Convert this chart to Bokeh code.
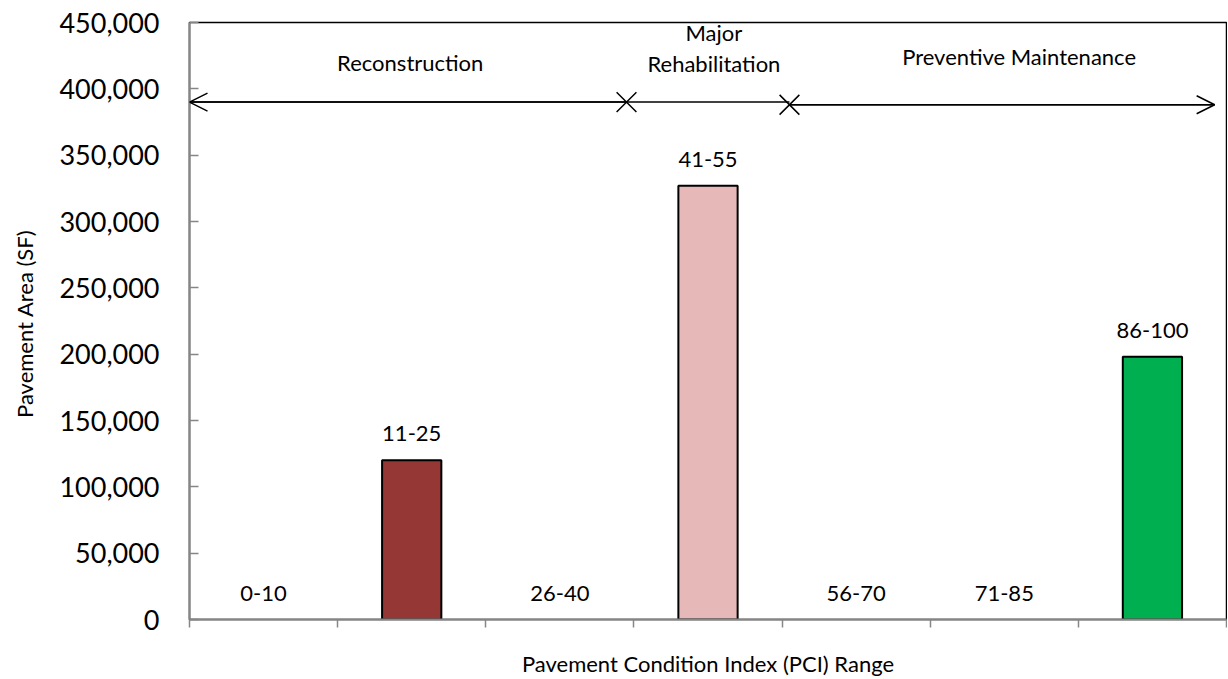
from bokeh.plotting import figure
from bokeh.models import (Range1d, FixedTicker, NumeralTickFormatter, Arrow, OpenHead,
                          ColumnDataSource)
from bokeh.core.properties import value
from bokeh.embed import file_html
from bokeh.resources import INLINE

# ---- data ----
categories = ["0-10", "11-25", "26-40", "41-55", "56-70", "71-85", "86-100"]
area_sf = [0, 120000, 0, 327000, 0, 0, 198000]
bar_colors = ["#7F7F7F", "#953735", "#FF0000", "#E6B9B8", "#92D050", "#00B0F0", "#00B050"]

bracket_names = ["Reconstruction", "Major\nRehabilitation", "Preventive Maintenance"]
bracket_bounds = [0.0, 2.95, 4.05, 6.92]
bracket_y = [390000, 390000, 388000]
bracket_label_x = [1.49, 3.54, 5.6]
bracket_label_y = [420000, 431000, 424000]

FONT = "Lato"

x_pos = [i + 0.5 for i in range(len(categories))]

p = figure(width=1227, height=679, output_backend="svg", toolbar_location=None,
           x_range=Range1d(0, len(categories)), y_range=Range1d(0, 450000))
p.min_border_left = 189
p.min_border_right = 1
p.min_border_top = 22
p.min_border_bottom = 53
p.background_fill_color = "white"
p.border_fill_color = "white"
p.outline_line_color = "black"
p.outline_line_width = 1.5
p.xgrid.visible = False
p.ygrid.visible = False

# bars (only non-zero ones are visible)
nz = [i for i, v in enumerate(area_sf) if v > 0]
bars = ColumnDataSource(dict(x=[x_pos[i] for i in nz], top=[area_sf[i] for i in nz],
                             color=[bar_colors[i] for i in nz]))
p.vbar(x="x", top="top", width=0.4, bottom=0, fill_color="color",
       line_color="black", line_width=2, source=bars)

# data labels = category names
lab = ColumnDataSource(dict(x=x_pos, y=area_sf, t=categories))
p.text(x="x", y="y", text="t", source=lab, text_align="center", text_baseline="bottom",
       y_offset=-19, text_font=value(FONT), text_font_size="22px", text_color="black")

# brackets
for k in range(3):
    p.segment(x0=bracket_bounds[k], y0=bracket_y[k], x1=bracket_bounds[k + 1],
              y1=bracket_y[k], line_color="black", line_width=1.5)
p.add_layout(Arrow(end=OpenHead(size=18, line_width=1.5, line_color="black"),
                   x_start=bracket_bounds[1], y_start=bracket_y[0],
                   x_end=bracket_bounds[0], y_end=bracket_y[0],
                   line_width=1.5, line_color="black"))
p.add_layout(Arrow(end=OpenHead(size=18, line_width=1.5, line_color="black"),
                   x_start=bracket_bounds[2], y_start=bracket_y[2],
                   x_end=bracket_bounds[3], y_end=bracket_y[2],
                   line_width=1.5, line_color="black"))
p.scatter(x=bracket_bounds[1:3], y=bracket_y[1:3], marker="x", size=28,
          line_color="black", line_width=1.5)
p.text(x=bracket_label_x, y=bracket_label_y, text=bracket_names, text_align="center",
       text_baseline="middle", text_font=value(FONT), text_font_size="22px",
       text_color="black", text_line_height=1.15)

# axes
p.xaxis.ticker = FixedTicker(ticks=list(range(len(categories) + 1)))
p.xaxis.major_label_text_font_size = "0px"
p.xaxis.major_label_text_color = None
p.xaxis.major_tick_in = 0
p.xaxis.major_tick_out = 8
p.xaxis.minor_tick_line_color = None
p.xaxis.axis_line_color = "#868686"
p.xaxis.axis_line_width = 2
p.xaxis.major_tick_line_color = "#868686"
p.xaxis.major_tick_line_width = 1.5
p.xaxis.axis_label = "Pavement Condition Index (PCI) Range"
p.xaxis.axis_label_text_font = FONT
p.xaxis.axis_label_text_font_size = "22px"
p.xaxis.axis_label_text_font_style = "normal"
p.xaxis.axis_label_text_color = "black"
p.xaxis.axis_label_standoff = 22

p.yaxis.ticker = FixedTicker(ticks=list(range(0, 450001, 50000)))
p.yaxis.formatter = NumeralTickFormatter(format="0,0")
p.yaxis.major_label_text_font = FONT
p.yaxis.major_label_text_font_size = "27px"
p.yaxis.major_label_text_color = "black"
p.yaxis.major_label_standoff = 30
p.yaxis.major_tick_in = 9
p.yaxis.major_tick_out = 0
p.yaxis.minor_tick_line_color = None
p.yaxis.axis_line_color = "#868686"
p.yaxis.axis_line_width = 2
p.yaxis.major_tick_line_color = "#868686"
p.yaxis.major_tick_line_width = 1.5
p.yaxis.axis_label = "Pavement  Area (SF)"
p.yaxis.axis_label_text_font = FONT
p.yaxis.axis_label_text_font_size = "22px"
p.yaxis.axis_label_text_font_style = "normal"
p.yaxis.axis_label_text_color = "black"
p.yaxis.axis_label_standoff = 18

open("out.html", "w").write(file_html(p, INLINE))
